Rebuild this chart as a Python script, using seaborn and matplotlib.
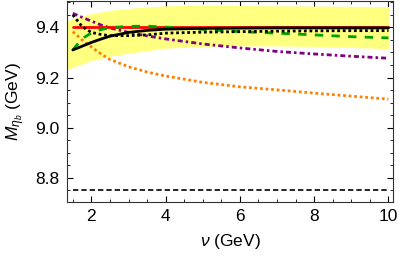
import numpy as np
import pandas as pd
import matplotlib
matplotlib.use("Agg")
import matplotlib.pyplot as plt
from matplotlib.ticker import MultipleLocator
import seaborn as sns

# Data
nu = [1.5, 1.75, 2.0, 2.25, 2.5, 3.0, 3.5, 4.0, 5.0, 6.0, 7.0, 8.0, 9.0, 10.0]
m_purple = [9.456, 9.44, 9.425, 9.41, 9.398, 9.38, 9.366, 9.354, 9.334, 9.318, 9.304, 9.294, 9.285, 9.277]
m_orange = [9.383, 9.35, 9.322, 9.295, 9.272, 9.243, 9.222, 9.206, 9.181, 9.163, 9.151, 9.138, 9.126, 9.114]
m_black = [9.31, 9.325, 9.34, 9.353, 9.365, 9.38, 9.388, 9.393, 9.396, 9.397, 9.398, 9.398, 9.398, 9.398]
m_dotted = [9.45, 9.403, 9.38, 9.372, 9.367, 9.367, 9.37, 9.377, 9.381, 9.383, 9.385, 9.386, 9.387, 9.387]
m_green = [9.31, 9.355, 9.378, 9.391, 9.399, 9.404, 9.405, 9.401, 9.392, 9.383, 9.377, 9.37, 9.363, 9.358]
m_red = [9.401] * len(nu)
m_pole = [8.753] * len(nu)

band_nu = [1.33, 1.5, 2.0, 2.5, 3.0, 4.0, 5.0, 6.0, 7.0, 8.0, 9.0, 10.0]
band_hi = [9.425, 9.435, 9.455, 9.468, 9.476, 9.486, 9.488, 9.487, 9.486, 9.485, 9.484, 9.483]
band_lo = [9.232, 9.24, 9.268, 9.285, 9.297, 9.317, 9.324, 9.326, 9.326, 9.324, 9.32, 9.315]

df = pd.DataFrame({"nu": nu, "purple": m_purple, "orange": m_orange, "black": m_black,
                   "dotted": m_dotted, "green": m_green, "red": m_red, "pole": m_pole})

sns.set_style("ticks")
plt.rcParams["font.family"] = ["Liberation Sans", "DejaVu Sans"]
plt.rcParams["mathtext.fontset"] = "custom"
plt.rcParams["mathtext.rm"] = "Liberation Sans"
plt.rcParams["mathtext.it"] = "Liberation Sans:italic"
plt.rcParams["text.color"] = "black"
plt.rcParams["axes.labelcolor"] = "black"
plt.rcParams["xtick.color"] = "black"
plt.rcParams["ytick.color"] = "black"

fig = plt.figure(figsize=(3.99, 2.61), dpi=100)
ax = fig.add_axes([0.1667, 0.227, 0.819, 0.769])

ax.fill_between(band_nu, band_lo, band_hi, color="#ffff80", lw=0)

sns.lineplot(data=df, x="nu", y="pole", ax=ax, color="black", lw=1.2, linestyle=(0, (3.2, 1.8)))
sns.lineplot(data=df, x="nu", y="orange", ax=ax, color="#ff8000", lw=2, linestyle=(0, (1, 1)))
sns.lineplot(data=df, x="nu", y="purple", ax=ax, color="#800080", lw=2, linestyle=(0, (1.8, 1.1, 0.9, 1.1)))
sns.lineplot(data=df, x="nu", y="red", ax=ax, color="#ff0000", lw=2)
sns.lineplot(data=df, x="nu", y="green", ax=ax, color="#00a000", lw=2, linestyle=(0, (3, 3)))
sns.lineplot(data=df, x="nu", y="black", ax=ax, color="black", lw=2)
sns.lineplot(data=df, x="nu", y="dotted", ax=ax, color="black", lw=2, linestyle=(0, (1, 1)))

ax.set_xlim(1.33, 10.13)
ax.set_ylim(8.705, 9.505)
ax.set_xticks([2, 4, 6, 8, 10])
ax.set_yticks([8.8, 9.0, 9.2, 9.4])
ax.set_yticklabels(["8.8", "9.0", "9.2", "9.4"])
ax.xaxis.set_minor_locator(MultipleLocator(0.5))
ax.yaxis.set_minor_locator(MultipleLocator(0.05))
ax.tick_params(which="both", direction="in", top=True, right=True, labelsize=12.5, pad=5)
ax.tick_params(which="major", length=4, width=0.8)
ax.tick_params(which="minor", length=2, width=0.6)
for s in ax.spines.values():
    s.set_linewidth(0.8)
    s.set_color("#333333")

ax.set_xlabel(r"$\nu$ (GeV)", fontsize=12.5, labelpad=6)
ax.set_ylabel(r"$M_{\eta_b}$ (GeV)", fontsize=12.5, labelpad=6)

fig.savefig("out.png", dpi=100)
